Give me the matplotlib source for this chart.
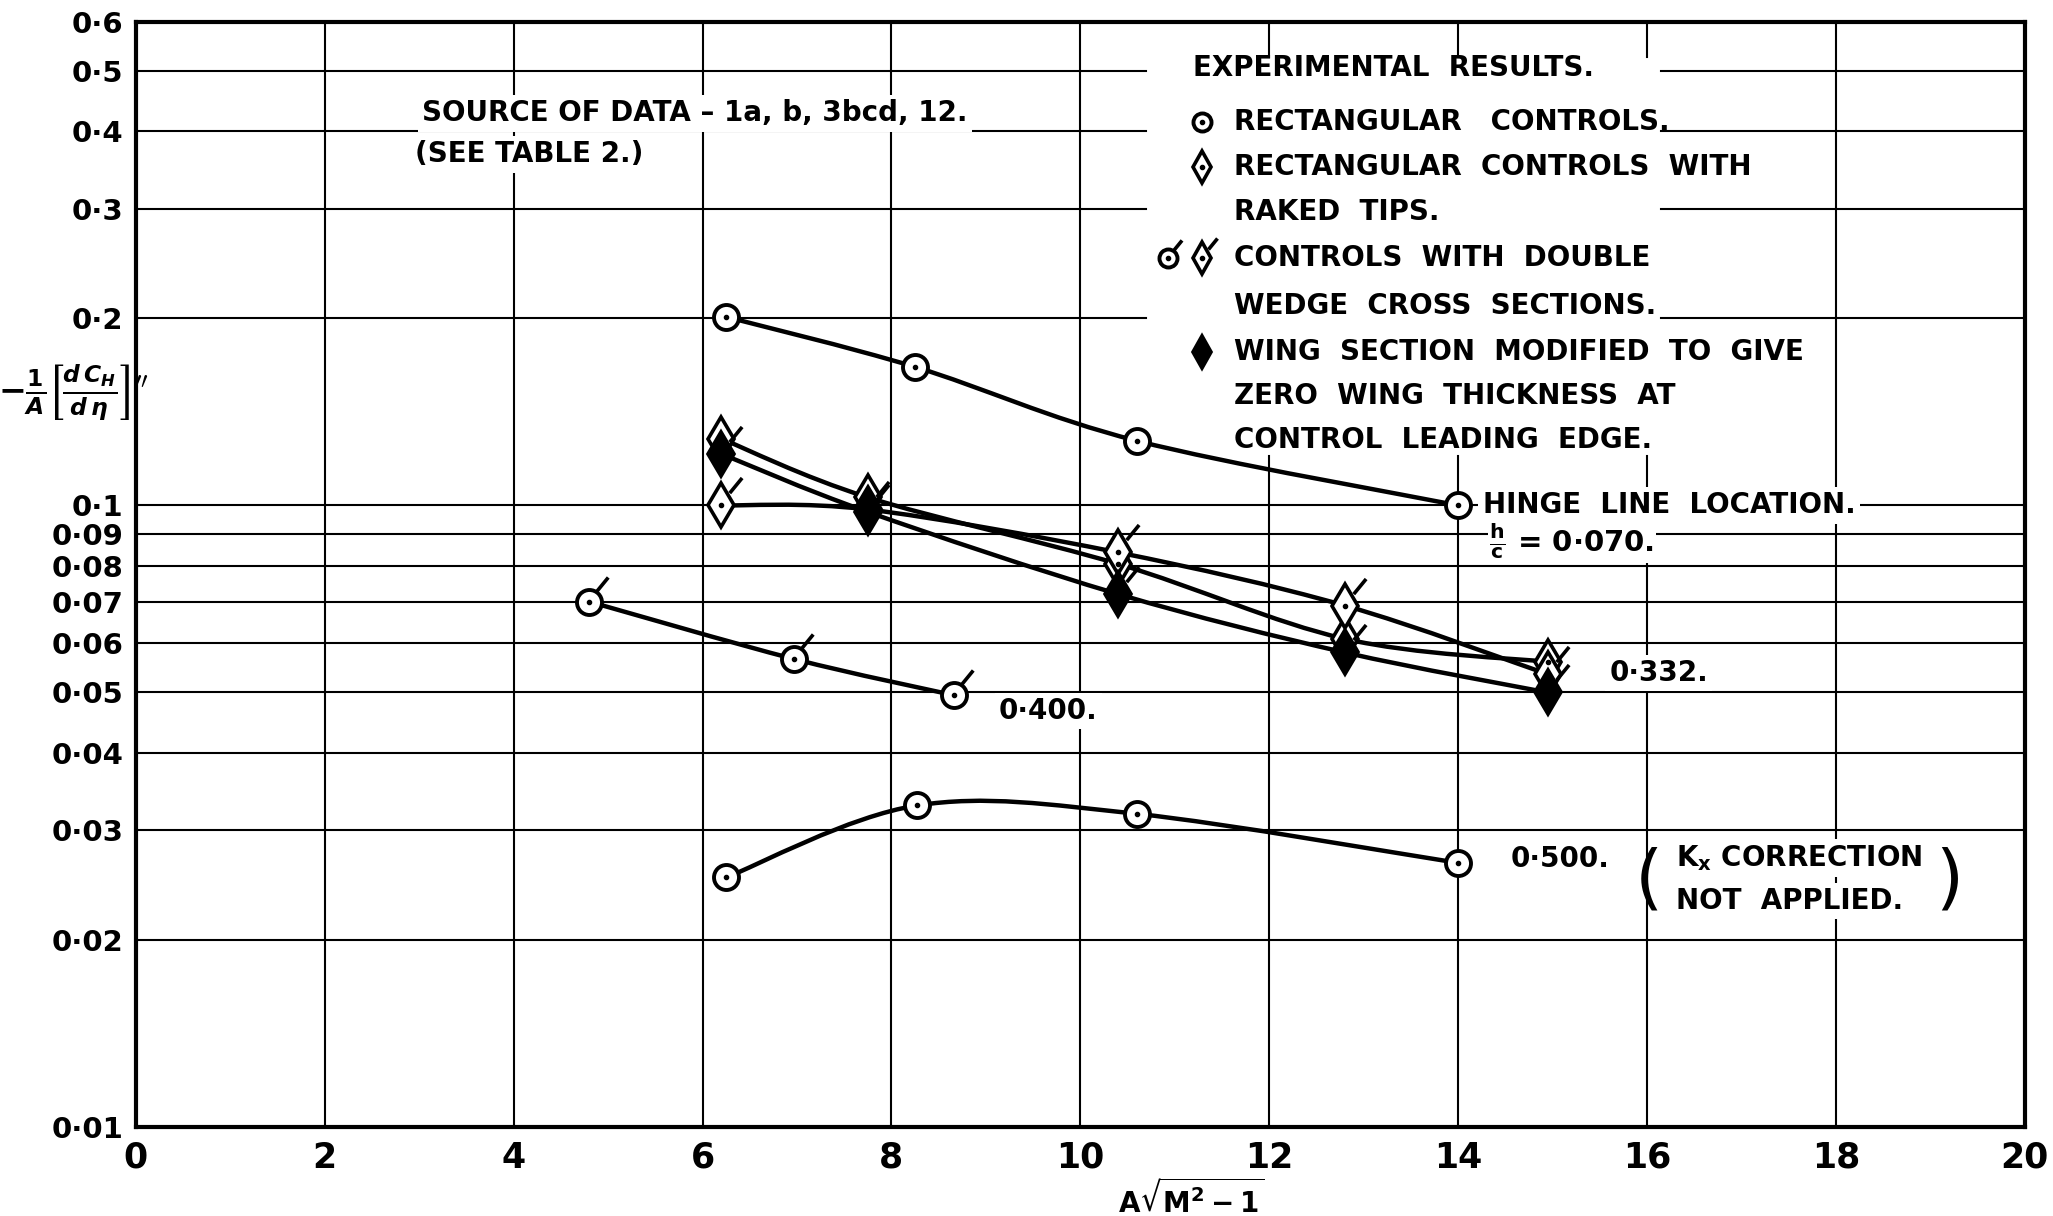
import numpy as np
import matplotlib.pyplot as plt
from matplotlib.path import Path
from matplotlib.patches import PathPatch

plt.rcParams['font.family'] = ['DejaVu Sans']
plt.rcParams['font.weight'] = 'bold'
plt.rcParams['mathtext.fontset'] = 'dejavusans'

# --- data ---
# rectangular controls, h/c = 0.070
x_rect_070 = [6.25, 8.25, 10.6, 14.0]
y_rect_070 = [0.201, 0.167, 0.127, 0.100]
# rectangular controls, h/c = 0.500
x_rect_500 = [6.25, 8.27, 10.6, 14.0]
y_rect_500 = [0.0252, 0.0329, 0.0319, 0.0266]
# double wedge controls, h/c = 0.400
x_dw_400 = [4.8, 6.97, 8.66]
y_dw_400 = [0.070, 0.0566, 0.0495]
# h/c = 0.332 group
x_332 = [6.2, 7.75, 10.4, 12.8, 14.95]
y_raked_332 = [0.128, 0.103, 0.0805, 0.061, 0.056]
y_dw_332 = [0.100, 0.0985, 0.084, 0.069, 0.0535]
y_mod_332 = [0.121, 0.0976, 0.072, 0.058, 0.050]

x_ticks = list(range(0, 21, 2))
y_ticks = [0.01, 0.02, 0.03, 0.04, 0.05, 0.06, 0.07, 0.08, 0.09,
           0.1, 0.2, 0.3, 0.4, 0.5, 0.6]
y_tick_labels = ['0·01', '0·02', '0·03', '0·04', '0·05', '0·06', '0·07',
                 '0·08', '0·09', '0·1', '0·2', '0·3', '0·4', '0·5', '0·6']

LW = 3.2
MS_C = 18     # circle size
MS_D = 22     # diamond size
FS = 20

# little slanted tick drawn on double wedge symbols
TICK = Path([(0.3, 0.45), (0.75, 1.0)], [Path.MOVETO, Path.LINETO])


def smooth(ax, xs, ys):
    # hand-drawn looking curve: cubic beziers through the points (log y space)
    p = np.column_stack([np.asarray(xs, float), np.log10(ys)])
    n = len(p)
    verts, codes = [p[0]], [Path.MOVETO]
    for i in range(n - 1):
        p0 = p[i - 1] if i > 0 else p[i]
        p3 = p[i + 2] if i + 2 < n else p[i + 1]
        verts += [p[i] + (p[i + 1] - p0) / 6, p[i + 1] - (p3 - p[i]) / 6, p[i + 1]]
        codes += [Path.CURVE4] * 3
    v = np.array(verts)
    v[:, 1] = 10 ** v[:, 1]
    ax.add_patch(PathPatch(Path(v, codes), fill=False, lw=LW, ec='black',
                           zorder=3, capstyle='round'))


def circles(ax, xs, ys, tick=False, ms=MS_C, **kw):
    ax.plot(xs, ys, 'o', ms=ms, mfc='white', mec='black', mew=2.8, zorder=4, **kw)
    ax.plot(xs, ys, 'o', ms=3, color='black', zorder=5, **kw)
    if tick:
        ax.plot(xs, ys, ls='none', marker=TICK, ms=2 * ms, mec='black',
                mew=2.6, zorder=5, **kw)


def diamonds(ax, xs, ys, filled=False, tick=False, ms=MS_D, **kw):
    ax.plot(xs, ys, 'd', ms=ms, mfc='black' if filled else 'white',
            mec='black', mew=2.6, zorder=4, **kw)
    if not filled:
        ax.plot(xs, ys, 'o', ms=3, color='black', zorder=5, **kw)
    if tick:
        ax.plot(xs, ys, ls='none', marker=TICK, ms=1.8 * ms, mec='black',
                mew=2.6, zorder=5, **kw)


fig = plt.figure(figsize=(20.53, 12.16), dpi=100)
ax = fig.add_axes([0.0662, 0.0732, 0.9200, 0.9090])
ax.set_yscale('log')
ax.set_xlim(0, 20)
ax.set_ylim(0.01, 0.6)

ax.set_xticks(x_ticks)
ax.set_xticklabels([str(t) for t in x_ticks], fontsize=25)
ax.set_yticks(y_ticks)
ax.set_yticklabels(y_tick_labels, fontsize=21)
ax.yaxis.set_minor_locator(plt.NullLocator())
ax.tick_params(axis='y', length=0, pad=9)
ax.tick_params(axis='x', length=0, pad=10)
for s in ax.spines.values():
    s.set_linewidth(3)

# grid, with the gaps left for the legend block
for xv in x_ticks[1:-1]:
    if xv in (12, 14, 16):
        ax.plot([xv, xv], [0.01, 0.12], color='black', lw=1.5, zorder=1)
        ax.plot([xv, xv], [0.527, 0.6], color='black', lw=1.5, zorder=1)
    else:
        ax.plot([xv, xv], [0.01, 0.6], color='black', lw=1.5, zorder=1)
for yv in y_ticks[1:-1]:
    if yv in (0.2, 0.3, 0.4, 0.5):
        ax.plot([0, 10.7], [yv, yv], color='black', lw=1.5, zorder=1)
        ax.plot([16.15, 20], [yv, yv], color='black', lw=1.5, zorder=1)
    else:
        ax.plot([0, 20], [yv, yv], color='black', lw=1.5, zorder=1)

# curves
smooth(ax, x_rect_070, y_rect_070)
smooth(ax, x_rect_500, y_rect_500)
smooth(ax, x_dw_400, y_dw_400)
smooth(ax, x_332, y_raked_332)
smooth(ax, x_332, y_dw_332)
smooth(ax, x_332, y_mod_332)

circles(ax, x_rect_070, y_rect_070)
circles(ax, x_rect_500, y_rect_500)
circles(ax, x_dw_400, y_dw_400, tick=True)
diamonds(ax, x_332, y_raked_332)
diamonds(ax, x_332, y_dw_332, tick=True)
diamonds(ax, x_332, y_mod_332, filled=True, tick=True)

wbox = dict(facecolor='white', edgecolor='none', pad=3)

# legend block
ax.text(11.19, 0.505, 'EXPERIMENTAL  RESULTS.', fontsize=FS, va='center', zorder=6)
leg_rows = [(0.414, 'RECTANGULAR   CONTROLS.'),
            (0.350, 'RECTANGULAR  CONTROLS  WITH'),
            (0.296, 'RAKED  TIPS.'),
            (0.250, 'CONTROLS  WITH  DOUBLE'),
            (0.209, 'WEDGE  CROSS  SECTIONS.'),
            (0.1765, 'WING  SECTION  MODIFIED  TO  GIVE'),
            (0.150, 'ZERO  WING  THICKNESS  AT'),
            (0.1272, 'CONTROL  LEADING  EDGE.')]
for yv, s in leg_rows:
    ax.text(11.63, yv, s, fontsize=FS, va='center', zorder=6)
circles(ax, [11.29], [0.414], ms=13, clip_on=False)
diamonds(ax, [11.29], [0.350], ms=16, clip_on=False)
circles(ax, [10.93], [0.250], ms=13, tick=True, clip_on=False)
diamonds(ax, [11.29], [0.250], ms=16, tick=True, clip_on=False)
diamonds(ax, [11.29], [0.1765], ms=16, filled=True, clip_on=False)

# annotations
ax.text(3.03, 0.427, 'SOURCE OF DATA – 1a, b, 3bcd, 12.', fontsize=FS,
        va='center', bbox=wbox, zorder=6)
ax.text(2.95, 0.367, '(SEE TABLE 2.)', fontsize=FS, va='center', bbox=wbox, zorder=6)
ax.text(14.26, 0.1, 'HINGE  LINE  LOCATION.', fontsize=FS, va='center',
        bbox=wbox, zorder=6)
ax.text(14.33, 0.0875, r'$\mathbf{\frac{h}{c}}$ = 0·070.', fontsize=FS + 1,
        va='center', bbox=dict(facecolor='white', edgecolor='none', pad=1), zorder=6)
ax.text(9.14, 0.0467, '0·400.', fontsize=FS, va='center', bbox=wbox, zorder=6)
ax.text(15.6, 0.0537, '0·332.', fontsize=FS, va='center', bbox=wbox, zorder=6)
ax.text(14.56, 0.027, '0·500.', fontsize=FS, va='center', bbox=wbox, zorder=6)
ax.text(16.31, 0.0271, r'K$_\mathbf{x}$ CORRECTION', fontsize=FS, va='center',
        bbox=wbox, zorder=6)
ax.text(16.31, 0.0231, 'NOT  APPLIED.', fontsize=FS, va='center', bbox=wbox, zorder=6)
ax.text(16.02, 0.0249, '(', fontsize=52, va='center', ha='center',
        fontweight='normal', zorder=6)
ax.text(19.2, 0.0249, ')', fontsize=52, va='center', ha='center',
        fontweight='normal', zorder=6)

# axis titles
fig.text(0.036, 0.677,
         r'$-\frac{1}{A}\left[\frac{d\,C_H}{d\,\eta}\right]^{\prime\prime}$',
         fontsize=24, ha='center', va='center')
fig.text(0.580, 0.014, r'$\mathrm{A}\sqrt{\mathrm{M^2-1}}$', fontsize=20,
         ha='center', va='center')

fig.savefig('out.png', dpi=100, facecolor='white')
